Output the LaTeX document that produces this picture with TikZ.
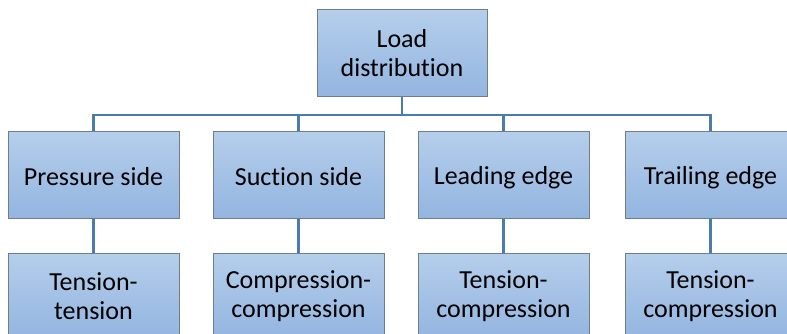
\documentclass[tikz,border=0pt]{standalone}
\usepackage{fontspec}
\setmainfont{Carlito}[Ligatures=NoCommon]
\newcommand{\lineprop}{\rule[-3pt]{0pt}{26pt}}
\begin{document}
\begin{tikzpicture}[x=1pt,y=-1pt,
  box/.style={draw=boxline, line width=1pt, top color=boxtop, bottom color=boxbot,
    minimum width=171pt, minimum height=86pt, inner sep=0pt, align=center,
    font=\fontsize{26}{29}\selectfont, text=black},
  link/.style={draw=linkblue, line width=2.6pt}]
\definecolor{boxtop}{HTML}{B5CEEB}
\definecolor{boxbot}{HTML}{93B5E0}
\definecolor{boxline}{HTML}{6F7D8C}
\definecolor{linkblue}{HTML}{4A7DAF}
\useasboundingbox (0,0) rectangle (787,334);
\node[box, minimum width=170pt, minimum height=87pt] (root) at (402,53.5) {Load\\distribution};
\node[box] (ps) at (93.5,175) {\lineprop Pressure side};
\node[box] (ss) at (298.5,175) {\lineprop Suction side};
\node[box] (le) at (503.5,175) {\lineprop Leading edge};
\node[box] (te) at (710.5,175) {\lineprop Trailing edge};
\node[box] (pst) at (93.5,296) {Tension-\\tension};
\node[box] (sst) at (298.5,296) {Compression-\\compression};
\node[box] (let) at (503.5,296) {Tension-\\compression};
\node[box] (tet) at (710.5,296) {Tension-\\compression};
\coordinate (bus) at (402,115);
\draw[link] (root.south) -- (bus);
\foreach \n in {ps,ss,le,te}{
  \draw[link] (\n.north) |- (bus);
}
\draw[link] (ps.south) -- (pst.north);
\draw[link] (ss.south) -- (sst.north);
\draw[link] (le.south) -- (let.north);
\draw[link] (te.south) -- (tet.north);
\end{tikzpicture}
\end{document}
